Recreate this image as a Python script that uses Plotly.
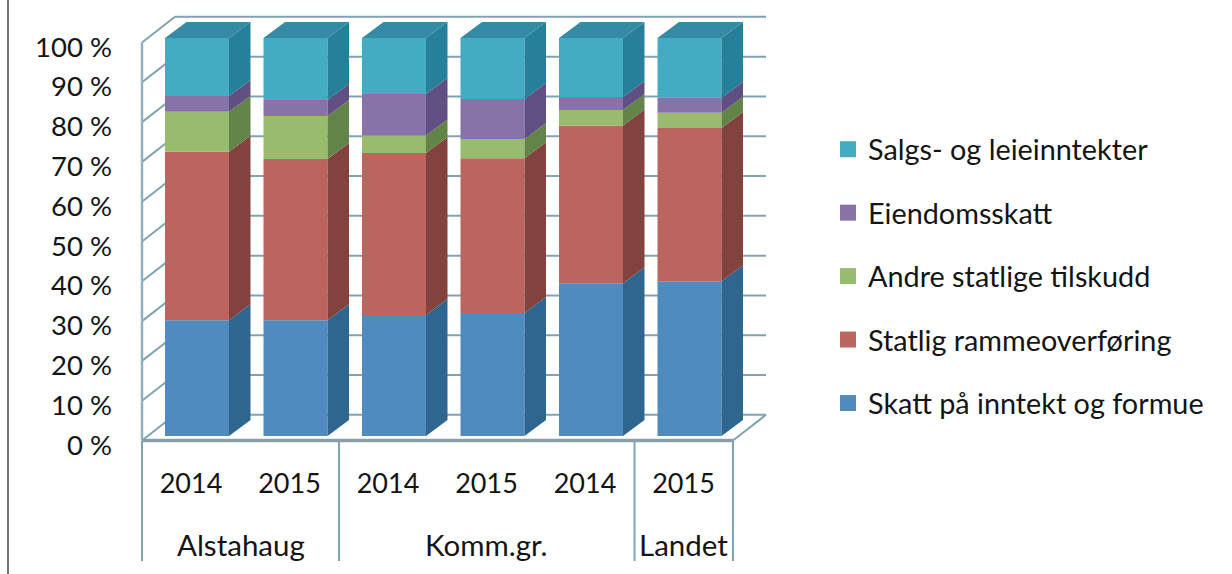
import plotly.graph_objects as go

years = ["2014", "2015", "2014", "2015", "2014", "2015"]
groups = ["Alstahaug", "Komm.gr.", "Landet"]
group_spans = [(0, 2), (2, 5), (5, 6)]
y_ticks = list(range(0, 101, 10))
y_labels = [f"{v} %" for v in y_ticks]

skatt = [29.1, 29.1, 30.4, 30.9, 38.4, 38.9]
ramme = [42.3, 40.5, 40.7, 38.9, 39.6, 38.5]
andre = [10.1, 10.8, 4.4, 4.8, 3.9, 3.8]
eiendom = [3.9, 4.0, 10.4, 10.1, 3.3, 3.8]
salg = [14.6, 15.6, 14.1, 15.3, 14.8, 15.0]

series = [
    ("Skatt på inntekt og formue", skatt, "#4F8BBE", "#2F668F"),
    ("Statlig rammeoverføring", ramme, "#BC645E", "#82433F"),
    ("Andre statlige tilskudd", andre, "#98BB6E", "#628448"),
    ("Eiendomsskatt", eiendom, "#8773A8", "#5F4F82"),
    ("Salgs- og leieinntekter", salg, "#43ACC3", "#27809A"),
]
top_colour = "#358BA3"

W, H = 1232, 574
L, R, T, B = 140, 790, 14, 445   # plot area, pixels
AX_L, AX_R = 142, 733            # front axis ends, pixels
PX_X = 98.5          # pixels per category
PX_Y = 3.98          # pixels per percent
X0 = 197             # pixel of first bar centre
Y0 = 436             # pixel of 0 % in the bar plane
BAR_W = 64 / PX_X
BAR_DX, BAR_DY = 21.5 / PX_X, 16 / PX_Y
WALL_DX, WALL_DY = 33 / PX_X, 6.45
AX_DY = -1.13
LEFT = (AX_L - X0) / PX_X
RIGHT = (AX_R - X0) / PX_X
GRID = "#7FA3B3"
AXIS = "#8A9FAB"
TEXT = "#141414"
FONT = "Lato"
FS = 27
GROUP_FS = 29.5
LEG_FS = 28.8

xs = list(range(len(years)))
fig = go.Figure()


def py_frac(p):
    return (B - p) / (B - T)


def px_frac(p):
    return (p - L) / (R - L)


def line(x, y, colour=GRID, width=2):
    fig.add_trace(go.Scatter(x=x, y=y, mode="lines", line=dict(color=colour, width=width),
                             showlegend=False, hoverinfo="skip", cliponaxis=False, zorder=0))


# back wall, left wall
for v in y_ticks:
    line([LEFT + WALL_DX, RIGHT + WALL_DX], [v + AX_DY + WALL_DY] * 2)
    line([LEFT, LEFT + WALL_DX], [v + AX_DY, v + AX_DY + WALL_DY])
# floor edge
line([RIGHT, RIGHT + WALL_DX], [AX_DY, AX_DY + WALL_DY])
# axes
line([LEFT, LEFT], [AX_DY, 100 + AX_DY], "#8FB0BF", 2.5)
line([LEFT, RIGHT], [AX_DY, AX_DY], AXIS, 3.5)

# stacked bars and their 3-D faces
bases = [0.0] * len(xs)
for name, vals, face, side in series:
    px, py = [], []
    for i, (b, v) in enumerate(zip(bases, vals)):
        xr = i + BAR_W / 2
        px += [xr, xr + BAR_DX, xr + BAR_DX, xr, xr, None]
        py += [b, b + BAR_DY, b + v + BAR_DY, b + v, b, None]
    fig.add_trace(go.Scatter(x=px, y=py, mode="lines", fill="toself", fillcolor=side,
                             line=dict(width=0, color=side), showlegend=False,
                             hoverinfo="skip", cliponaxis=False, zorder=1))
    fig.add_trace(go.Bar(x=xs, y=vals, base=bases, width=BAR_W, marker=dict(color=face, line=dict(width=0)),
                         showlegend=False, cliponaxis=False, name=name, zorder=1))
    bases = [b + v for b, v in zip(bases, vals)]

# top faces
px, py = [], []
for i, b in enumerate(bases):
    xl, xr = i - BAR_W / 2, i + BAR_W / 2
    px += [xl, xl + BAR_DX, xr + BAR_DX, xr, xl, None]
    py += [b, b + BAR_DY, b + BAR_DY, b, b, None]
fig.add_trace(go.Scatter(x=px, y=py, mode="lines", fill="toself", fillcolor=top_colour,
                         line=dict(width=0, color=top_colour), showlegend=False,
                         hoverinfo="skip", cliponaxis=False, zorder=1))

# legend entries
for name, vals, face, side in reversed(series):
    fig.add_trace(go.Scatter(x=[None], y=[None], mode="markers", name=name, legendgroup=name,
                             marker=dict(symbol="square", size=16, color=face)))

annotations = []
for name, (a, b) in zip(groups, group_spans):
    annotations.append(dict(x=LEFT + (a + b) / 2, y=py_frac(544), xref="x", yref="paper", text=name,
                            showarrow=False, yanchor="middle", xanchor="center",
                            font=dict(family=FONT, size=GROUP_FS, color=TEXT)))

shapes = [dict(type="line", xref="paper", yref="paper", x0=px_frac(8), x1=px_frac(8),
               y0=py_frac(574), y1=py_frac(0), line=dict(color="#444444", width=1.5))]
for edge in [0, 2, 5, 6]:
    shapes.append(dict(type="line", xref="x", yref="paper", x0=LEFT + edge, x1=LEFT + edge,
                       y0=py_frac(441), y1=py_frac(561), line=dict(color=GRID, width=2)))

fig.update_layout(
    width=W, height=H, autosize=False,
    margin=dict(l=L, r=W - R, t=T, b=H - B, pad=0),
    paper_bgcolor="white", plot_bgcolor="rgba(0,0,0,0)",
    barmode="overlay", hovermode=False,
    annotations=annotations, shapes=shapes,
    font=dict(family=FONT, size=FS, color=TEXT),
    xaxis=dict(range=[(L - X0) / PX_X, (R - X0) / PX_X], tickvals=xs, ticktext=years, showgrid=False,
               zeroline=False, showline=False, ticks="", ticklabelstandoff=20, ticklabelshift=-6,
               tickfont=dict(family=FONT, size=FS, color=TEXT)),
    yaxis=dict(range=[(Y0 - B) / PX_Y, (Y0 - T) / PX_Y], tickvals=y_ticks, ticktext=y_labels,
               showgrid=False, zeroline=False, showline=False, ticks="", ticklabelstandoff=27,
               ticklabelshift=9, tickfont=dict(family=FONT, size=27.5, color=TEXT)),
    legend=dict(x=px_frac(828), y=py_frac(124), xanchor="left", yanchor="top",
                traceorder="grouped", tracegroupgap=23, itemsizing="trace",
                font=dict(family=FONT, size=LEG_FS, color=TEXT), bgcolor="rgba(0,0,0,0)"),
)
fig.write_html("out.html", post_script="document.body.style.margin='0';",
               config=dict(displayModeBar=False))
